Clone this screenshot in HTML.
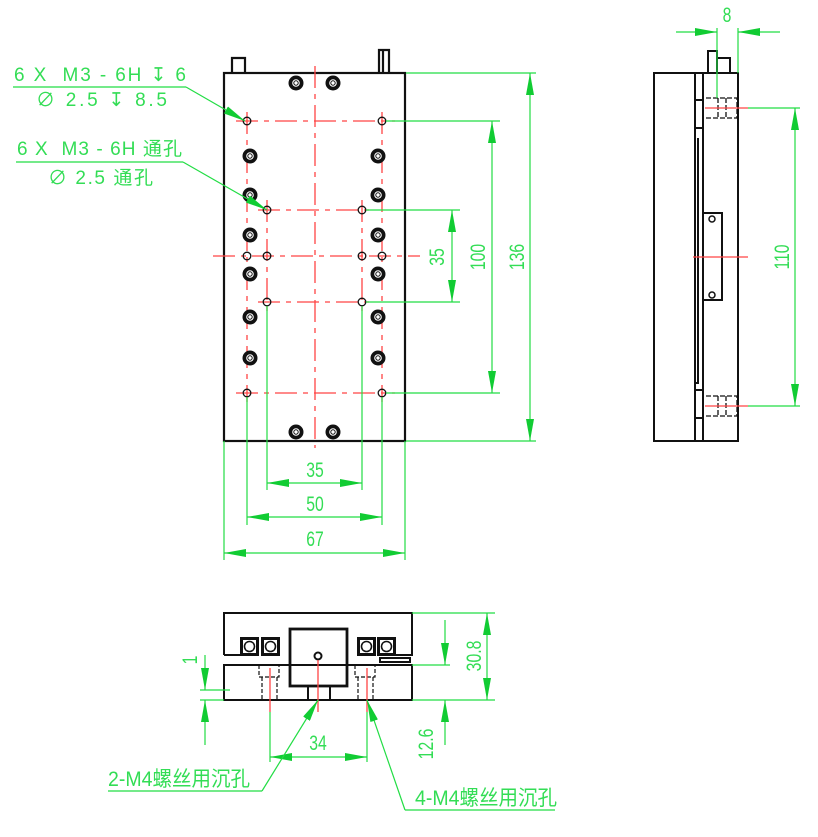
<!DOCTYPE html>
<html><head><meta charset="utf-8"><style>
html,body{margin:0;padding:0;background:#fff;}
svg{display:block;}
text{font-family:"Liberation Sans","Noto Sans CJK SC",sans-serif;fill:#33dd55;}
</style></head><body>
<svg width="818" height="837" viewBox="0 0 818 837" xmlns="http://www.w3.org/2000/svg">
<defs>
<marker id="a" viewBox="0 0 22 8" refX="22" refY="4" markerWidth="22" markerHeight="8" markerUnits="userSpaceOnUse" orient="auto-start-reverse"><path d="M0,0L22,4L0,8z" fill="#11cc33"/></marker>
<g id="scr"><circle r="7.5" fill="#111"/><circle r="3.8" fill="#fff"/><circle r="2.2" fill="none" stroke="#111" stroke-width="1"/></g>
<g id="hole"><circle r="3.8" fill="none" stroke="#111" stroke-width="1.3"/></g>
<g id="fs"><rect width="19" height="19" fill="#111"/><rect x="3" y="3" width="13" height="13" fill="#fff"/><circle cx="9.5" cy="9.5" r="5" fill="none" stroke="#111" stroke-width="1.6"/><path d="M6.5,6.5l6,6M12.5,6.5l-6,6" stroke="#fff" stroke-width="1.4"/></g>
</defs>

<!-- ===== TOP VIEW ===== -->
<g stroke="#111" stroke-width="2.2" fill="none">
<rect x="224" y="73" width="181" height="368"/>
<path d="M232,73V58h13v15M379,73V50h10v23M383,50v23"/>
</g>
<g stroke="#ff4444" stroke-width="1.3" fill="none" stroke-dasharray="22,6,5,6">
<path d="M315,66V448"/>
<path d="M236,121H395M236,393H395M258,210H372M258,302H372M213,256H420"/>
<path d="M247,112V402M382,112V402M267,200V312M362,200V312"/>
</g>
<g>
<use href="#hole" x="247" y="121"/><use href="#hole" x="382" y="121"/>
<use href="#hole" x="247" y="393"/><use href="#hole" x="382" y="393"/>
<use href="#hole" x="267" y="210"/><use href="#hole" x="362" y="210"/>
<use href="#hole" x="267" y="256"/><use href="#hole" x="362" y="256"/>
<use href="#hole" x="247" y="256"/><use href="#hole" x="382" y="256"/>
<use href="#hole" x="267" y="302"/><use href="#hole" x="362" y="302"/>
</g>
<g>
<use href="#scr" x="296" y="83"/><use href="#scr" x="333" y="83"/>
<use href="#scr" x="296" y="432"/><use href="#scr" x="333" y="432"/>
<use href="#scr" x="250" y="156"/><use href="#scr" x="250" y="195"/><use href="#scr" x="250" y="235"/><use href="#scr" x="250" y="274"/><use href="#scr" x="250" y="317"/><use href="#scr" x="250" y="358"/>
<use href="#scr" x="378" y="156"/><use href="#scr" x="378" y="195"/><use href="#scr" x="378" y="235"/><use href="#scr" x="378" y="274"/><use href="#scr" x="378" y="317"/><use href="#scr" x="378" y="358"/>
</g>
<g stroke="#22dd44" stroke-width="1.2" fill="none">
<path d="M406,73H536M406,441H536M386,121H500M386,393H500M366,210H460M366,302H460"/>
<path d="M530,73V441" marker-start="url(#a)" marker-end="url(#a)"/>
<path d="M492,121V393" marker-start="url(#a)" marker-end="url(#a)"/>
<path d="M452,210V302" marker-start="url(#a)" marker-end="url(#a)"/>
<path d="M224,441V560M405,441V560M247,397V525M382,397V525M267,306V490M362,306V490"/>
<path d="M267,483H362" marker-start="url(#a)" marker-end="url(#a)"/>
<path d="M247,517H382" marker-start="url(#a)" marker-end="url(#a)"/>
<path d="M224,553H405" marker-start="url(#a)" marker-end="url(#a)"/>
<path d="M13,87H186"/>
<path d="M186,87L245,121" marker-end="url(#a)"/>
<path d="M16,162H183"/>
<path d="M183,162L267,210" marker-end="url(#a)"/>
</g>
<g font-size="21">
<text x="315" y="477" text-anchor="middle" transform="translate(315 0) scale(0.75 1) translate(-315 0)">35</text>
<text x="315" y="511" text-anchor="middle" transform="translate(315 0) scale(0.75 1) translate(-315 0)">50</text>
<text x="315" y="546" text-anchor="middle" transform="translate(315 0) scale(0.75 1) translate(-315 0)">67</text>
<text transform="translate(444 257) rotate(-90) scale(0.75 1)" text-anchor="middle">35</text>
<text transform="translate(485 257) rotate(-90) scale(0.75 1)" text-anchor="middle">100</text>
<text transform="translate(524 257) rotate(-90) scale(0.75 1)" text-anchor="middle">136</text>
</g>
<g font-size="19">
<text x="14" y="81" textLength="172" lengthAdjust="spacing" xml:space="preserve">6 X  M3 - 6H ↧ 6</text>
<text x="36" y="106" textLength="131" lengthAdjust="spacing" xml:space="preserve">∅ 2.5 ↧ 8.5</text>
<text x="17" y="155" textLength="165" lengthAdjust="spacing" xml:space="preserve">6 X  M3 - 6H 通孔</text>
<text x="48" y="184" textLength="105" lengthAdjust="spacing" xml:space="preserve">∅ 2.5 通孔</text>
</g>

<!-- ===== SIDE VIEW ===== -->
<g stroke="#111" stroke-width="2" fill="none">
<rect x="654" y="73" width="84" height="368"/>
<path d="M695,73V441M703,73V441"/>
<path d="M708,73V51h9v22M717,58h13v15"/>
<path d="M703,213h19v87h-19"/>
<path d="M698,138V383h-3M695,100h8M695,128h8M695,390h8M695,418h8"/>
</g>
<g stroke="#111" stroke-width="1.3" fill="none" stroke-dasharray="5,2">
<path d="M706,98h31v20h-31M706,396h31v20h-31M718,98v20M726,98v20M718,396v20M726,396v20"/>
</g>
<circle cx="712" cy="219" r="3" fill="none" stroke="#111" stroke-width="1.5"/>
<circle cx="712" cy="295" r="3" fill="none" stroke="#111" stroke-width="1.5"/>
<g stroke="#ff4444" stroke-width="1.3"><path d="M705,108H748M705,406H748M693,257H748"/></g>
<g stroke="#22dd44" stroke-width="1.2" fill="none">
<path d="M717,28V98M738,28V73"/>
<path d="M676,32H717" marker-end="url(#a)"/>
<path d="M780,32H738" marker-end="url(#a)"/>
<path d="M748,108H800M748,406H800"/>
<path d="M795,108V406" marker-start="url(#a)" marker-end="url(#a)"/>
</g>
<g font-size="21">
<text x="727" y="22" text-anchor="middle" transform="translate(727 0) scale(0.75 1) translate(-727 0)">8</text>
<text transform="translate(789 257) rotate(-90) scale(0.75 1)" text-anchor="middle">110</text>
</g>

<!-- ===== FRONT VIEW ===== -->
<g stroke="#111" stroke-width="2" fill="none">
<path d="M224,655V613H412V655H380M224,655H240"/>
<rect x="224" y="665" width="188" height="35"/>
<rect x="290" y="629" width="57" height="57" stroke-width="2.8"/>
<path d="M380,658h30v4h-30z"/>
<circle cx="318" cy="656" r="3.5" stroke-width="2"/>
<path d="M308,686v14M330,686v14"/>
</g>
<use href="#fs" x="240" y="637"/><use href="#fs" x="261" y="637"/>
<use href="#fs" x="357" y="637"/><use href="#fs" x="377" y="637"/>
<g stroke="#111" stroke-width="1.2" fill="none" stroke-dasharray="4,2">
<path d="M259,665v12h20v-12M262,677v23M277,677v23M355,665v12h20v-12M358,677v23M373,677v23"/>
</g>
<g stroke="#ff4444" stroke-width="1.3"><path d="M270,668V712M318,660V712M367,668V712"/></g>
<g stroke="#22dd44" stroke-width="1.2" fill="none">
<path d="M412,613H495M412,665H450M412,700H495M200,700H224M200,690H230"/>
<path d="M487,613V700" marker-start="url(#a)" marker-end="url(#a)"/>
<path d="M445,620V665" marker-end="url(#a)"/>
<path d="M445,745V700" marker-end="url(#a)"/>
<path d="M205,655V690" marker-end="url(#a)"/>
<path d="M205,745V700" marker-end="url(#a)"/>
<path d="M270,712V762M367,712V762"/>
<path d="M270,757H367" marker-start="url(#a)" marker-end="url(#a)"/>
<path d="M108,791H262"/>
<path d="M262,791L318,700" marker-end="url(#a)"/>
<path d="M555,810H405"/>
<path d="M405,810L367,700" marker-end="url(#a)"/>
</g>
<g font-size="21">
<text x="318" y="750" text-anchor="middle" transform="translate(318 0) scale(0.75 1) translate(-318 0)">34</text>
<text transform="translate(481 656) rotate(-90) scale(0.75 1)" text-anchor="middle">30.8</text>
<text transform="translate(433 744) rotate(-90) scale(0.75 1)" text-anchor="middle">12.6</text>
<text transform="translate(197 660) rotate(-90) scale(0.75 1)" text-anchor="middle">1</text>
<text x="108" y="786" textLength="142" lengthAdjust="spacingAndGlyphs">2-M4螺丝用沉孔</text>
<text x="415" y="805" textLength="142" lengthAdjust="spacingAndGlyphs">4-M4螺丝用沉孔</text>
</g>
</svg>
</body></html>
